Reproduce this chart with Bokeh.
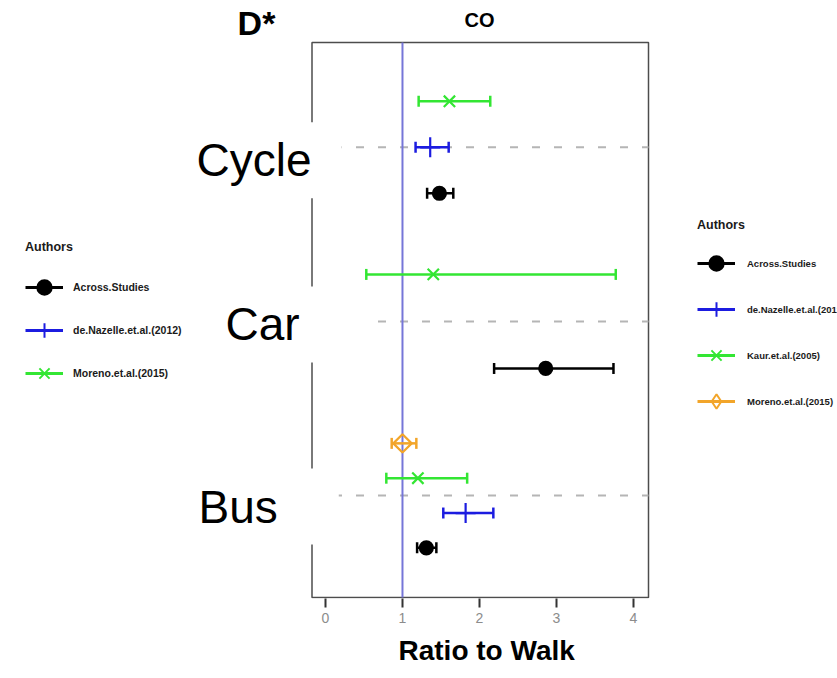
import math
from bokeh.plotting import figure
from bokeh.models import Label, Legend, LegendItem, ColumnDataSource, FixedTicker, Range1d, Title
from bokeh.embed import file_html
from bokeh.resources import INLINE

# ---------------- data ----------------
groups = ["Bus", "Car", "Cycle"]            # bottom -> top
row_group = ["Cycle", "Cycle", "Cycle", "Car", "Car", "Bus", "Bus", "Bus", "Bus"]
row_author = ["Moreno.et.al.(2015)", "de.Nazelle.et.al.(2012)", "Across.Studies",
              "Kaur.et.al.(2005)", "Across.Studies",
              "Moreno.et.al.(2015)", "Kaur.et.al.(2005)", "de.Nazelle.et.al.(2012)", "Across.Studies"]
row_slot = [1, 0, -1, 1, -1, 1.5, 0.5, -0.5, -1.5]
ratio = [1.61, 1.36, 1.48, 1.40, 2.86, 1.00, 1.20, 1.82, 1.31]
lower = [1.21, 1.17, 1.32, 0.53, 2.19, 0.86, 0.79, 1.53, 1.19]
upper = [2.14, 1.60, 1.66, 3.77, 3.74, 1.18, 1.84, 2.18, 1.44]
x_ticks = [0, 1, 2, 3, 4]
left_legend_authors = ["Across.Studies", "de.Nazelle.et.al.(2012)", "Moreno.et.al.(2015)"]
right_legend_authors = ["Across.Studies", "de.Nazelle.et.al.(2012)", "Kaur.et.al.(2005)", "Moreno.et.al.(2015)"]
reference_ratio = 1

# ---------------- layout / styles ----------------
PANEL_X = (-0.175, 4.195)      # panel box limits (data units)
PANEL_Y = (-0.585, 2.602)
BLACK, BLUE, GREEN, ORANGE = "#000000", "#1c1ce0", "#33e633", "#f2a52a"
ST_DOT = dict(color=BLACK, marker="circle", size=13, fill=BLACK, angle=0, lmarker="circle")
ST_CROSS = dict(color=BLUE, marker="cross", size=20, fill=None, angle=0, lmarker="cross")
ST_X = dict(color=GREEN, marker="x", size=16, fill=None, angle=0, lmarker="x")
ST_DIAM = dict(color=ORANGE, marker="square", size=13, fill=None, angle=math.pi / 4, lmarker="diamond")
STYLE_LEFT = {"Across.Studies": ST_DOT, "de.Nazelle.et.al.(2012)": ST_CROSS, "Moreno.et.al.(2015)": ST_X}
STYLE_RIGHT = {"Across.Studies": ST_DOT, "de.Nazelle.et.al.(2012)": ST_CROSS,
               "Kaur.et.al.(2005)": ST_X, "Moreno.et.al.(2015)": ST_DIAM}
SLOT_STEP = {"Cycle": 0.264, "Car": 0.27, "Bus": 0.2}
FONT = "Liberation Sans"
W, H = 837, 678
BORDER_BOTTOM = 80
PX_X = (PANEL_X[1] - PANEL_X[0]) / 336.5     # data units per pixel
PX_Y = (PANEL_Y[1] - PANEL_Y[0]) / 556.0

x_range = Range1d(PANEL_X[0] - 311.5 * PX_X, PANEL_X[1] + (W - 648) * PX_X)
y_range = Range1d(PANEL_Y[0] - 1 * PX_Y, PANEL_Y[1] + 42 * PX_Y)

p = figure(width=W, height=H, output_backend="svg", toolbar_location=None,
           x_range=x_range, y_range=y_range, y_axis_location=None,
           min_border_left=0, min_border_right=0, min_border_top=0,
           min_border_bottom=BORDER_BOTTOM)
p.xgrid.visible = False
p.ygrid.visible = False
p.outline_line_color = None
p.background_fill_color = "white"
p.border_fill_color = "white"

ax = p.xaxis[0]
ax.ticker = FixedTicker(ticks=x_ticks)
ax.minor_tick_line_color = None
ax.major_tick_in = 0
ax.major_tick_out = 9
ax.major_tick_line_width = 2
ax.major_tick_line_color = "#333333"
ax.axis_line_color = None
ax.major_label_text_font = FONT
ax.major_label_text_font_size = "14px"
ax.major_label_text_color = "#8c8c8c"
ax.major_label_standoff = 5
p.add_layout(Title(text="Ratio to Walk", align="left", offset=398, text_font=FONT,
                   text_font_size="28px", text_font_style="bold", text_color="#000000",
                   standoff=14), "below")

# panel box
p.quad(left=[PANEL_X[0]], right=[PANEL_X[1]], bottom=[PANEL_Y[0]], top=[PANEL_Y[1]],
       fill_color=None, line_color="#4d4d4d", line_width=1.5)

# reference lines
for gi, g in enumerate(groups):
    p.segment(x0=[PANEL_X[0]], y0=[gi], x1=[PANEL_X[1]], y1=[gi], line_color="#b5b5b5",
              line_width=2, line_dash="8 14")
p.segment(x0=[reference_ratio], y0=[PANEL_Y[0]], x1=[reference_ratio], y1=[PANEL_Y[1]],
          line_color="#7676d8", line_width=2)

# data rows
for i in range(len(ratio)):
    g = row_group[i]
    st = (STYLE_LEFT if g == "Cycle" else STYLE_RIGHT)[row_author[i]]
    yv = groups.index(g) + row_slot[i] * SLOT_STEP[g]
    src = ColumnDataSource(dict(x=[ratio[i]], lo=[lower[i]], hi=[upper[i]], y=[yv]))
    p.segment(x0="lo", y0="y", x1="hi", y1="y", source=src, line_color=st["color"], line_width=2.5)
    for col in ("lo", "hi"):
        p.scatter(x=col, y="y", source=src, marker="dash", angle=math.pi / 2, size=11,
                  line_color=st["color"], line_width=2.5)
    p.scatter(x="x", y="y", source=src, marker=st["marker"], size=st["size"], angle=st["angle"],
              line_color=st["color"], fill_color=st["fill"], line_width=2.2)

# group labels with white boxes
label_cfg = {"Cycle": (193, -13, 30), "Car": (222, -3, 78), "Bus": (195, -11, 61)}
for gi, g in enumerate(groups):
    lx, yoff, rpad = label_cfg[g]
    p.add_layout(Label(x=lx, y=gi, x_units="screen", y_units="data", y_offset=yoff, text=g,
                       text_align="left", text_baseline="middle", text_font=FONT,
                       text_font_size="46px", text_color="#000000",
                       background_fill_color="white",
                       padding={"left": 3, "right": rpad, "top": 12, "bottom": 12},
                       level="overlay"))

fb = H - BORDER_BOTTOM
p.add_layout(Label(x=479, y=fb - 19, x_units="screen", y_units="screen", text="CO",
                   text_align="center", text_baseline="middle", text_font=FONT,
                   text_font_size="20px", text_font_style="bold", text_color="#000000"))
p.add_layout(Label(x=256, y=fb - 22, x_units="screen", y_units="screen", text="D*",
                   text_align="center", text_baseline="middle", text_font=FONT,
                   text_font_size="34px", text_font_style="bold", text_color="#000000"))

NAN = float("nan")


def make_legend(authors, style, loc, standoff, spacing, fsize, lstand):
    items = []
    for a in authors:
        st = style[a]
        lr = p.line(x=[NAN], y=[NAN], line_color=st["color"], line_width=2.8)
        sr = p.scatter(x=[NAN], y=[NAN], marker=st["lmarker"], size=st["size"],
                       line_color=st["color"], fill_color=st["fill"], line_width=2)
        items.append(LegendItem(label=a, renderers=[lr, sr]))
    leg = Legend(items=items, location=loc, title="Authors",
                 glyph_width=38, glyph_height=36, label_standoff=lstand, spacing=spacing,
                 padding=0, margin=0, border_line_alpha=0, background_fill_alpha=0,
                 label_text_font=FONT, label_text_font_size=fsize, label_text_font_style="bold",
                 label_text_color="#1a1a1a", title_text_font=FONT, title_text_font_size="12.5px",
                 title_text_font_style="bold", title_text_color="#1a1a1a", title_standoff=standoff)
    p.add_layout(leg)


make_legend(left_legend_authors, STYLE_LEFT, (25, fb - 391), 15, 7, "10.5px", 10)
make_legend(right_legend_authors, STYLE_RIGHT, (697, fb - 419), 13, 10, "9.5px", 12)

open("out.html", "w").write(file_html(p, INLINE))
